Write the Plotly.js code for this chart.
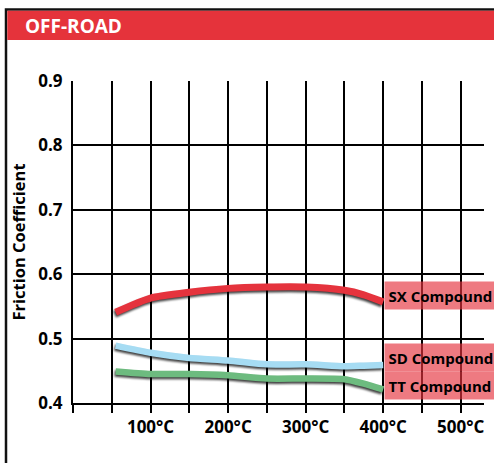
<!DOCTYPE html>
<html>
<head>
<meta charset="utf-8">
<script src="https://cdn.plot.ly/plotly-3.0.1.min.js"></script>
<style>
html,body{margin:0;padding:0;background:#fff;}
#chart{width:494px;height:463px;}
.scatterlayer .trace path.js-line{filter:drop-shadow(-1px 2px 1px rgba(0,0,0,0.75));}
</style>
</head>
<body>
<div id="chart"></div>
<script>
// Data (temperature in °C, friction coefficient)
const temps = [55, 100, 150, 200, 250, 300, 350, 375, 400];
const sxValues = [0.541, 0.563, 0.572, 0.578, 0.580, 0.580, 0.575, 0.568, 0.557];
const sdValues = [0.489, 0.478, 0.470, 0.466, 0.460, 0.460, 0.457, 0.458, 0.459];
const ttValues = [0.449, 0.445, 0.445, 0.443, 0.438, 0.438, 0.437, 0.430, 0.421];
const seriesNames = ['SX Compound', 'SD Compound', 'TT Compound'];
const labelValues = [0.567, 0.470, 0.427];
const xTickVals = [0, 50, 100, 150, 200, 250, 300, 350, 400, 450, 500];
const xTickText = ['', '', '100°C', '', '200°C', '', '300°C', '', '400°C', '', '500°C'];
const yTickVals = [0.4, 0.5, 0.6, 0.7, 0.8, 0.9];
const yTickText = ['0.4', '0.5', '0.6', '0.7', '0.8', '0.9'];
const chartTitle = 'OFF-ROAD';
const yTitle = 'Friction Coefficient';

const colors = ['#e5333d', '#a6dcf3', '#6dbb7f'];
const widths = [7, 6.5, 6.5];
const allValues = [sxValues, sdValues, ttValues];
const FONT = '"Open Sans", Lato, sans-serif';

const traces = allValues.map((v, i) => ({
  x: temps, y: v, type: 'scatter', mode: 'lines', name: seriesNames[i],
  line: {color: colors[i], width: widths[i], shape: 'spline', smoothing: 0.6},
  hoverinfo: 'skip'
}));

const W = 494, H = 463, pl = 73, pr = 10, pt = 81, pb = 60;
const pw = W - pl - pr, ph = H - pt - pb;
function px(x){ return (x - pl) / pw; }
function py(y){ return (H - pb - y) / ph; }

const annotations = seriesNames.map((n, i) => ({
  x: 400, y: labelValues[i], xref: 'x', yref: 'y', xanchor: 'left', yanchor: 'middle',
  text: '<b>' + n + '</b>', showarrow: false, align: 'left', width: 114,
  font: {family: FONT, size: 15, color: '#000'},
  bgcolor: 'rgba(229,51,61,0.65)', borderpad: 3.5, xshift: 1
}));
annotations.push({
  x: px(23), y: py(26), xref: 'paper', yref: 'paper', text: '<b>' + chartTitle + '</b>',
  showarrow: false, xanchor: 'left', yanchor: 'middle',
  font: {family: FONT, size: 19, color: '#fff'}
});

const layout = {
  width: W, height: H,
  margin: {l: pl, r: pr, t: pt, b: pb},
  paper_bgcolor: '#fff', plot_bgcolor: '#fff',
  showlegend: false,
  font: {family: FONT, color: '#000'},
  xaxis: {
    range: [0, 530], tickmode: 'array', tickvals: xTickVals, ticktext: xTickText,
    showgrid: true, gridcolor: '#000', gridwidth: 2, zeroline: false,
    showline: true, linecolor: '#000', linewidth: 2,
    ticks: 'outside', ticklen: 8, tickwidth: 2, tickcolor: '#000',
    tickfont: {family: FONT, size: 17, color: '#000', weight: 'bold'},
    fixedrange: true
  },
  yaxis: {
    range: [0.4, 0.9], tickmode: 'array', tickvals: yTickVals, ticktext: yTickText,
    showgrid: true, gridcolor: '#000', gridwidth: 2, zeroline: false,
    showline: true, linecolor: '#000', linewidth: 2, ticks: '', ticklabelstandoff: 5,
    tickfont: {family: FONT, size: 17, color: '#000', weight: 'bold'},
    title: {text: '<b>' + yTitle + '</b>', font: {family: FONT, size: 16.5, color: '#000'}, standoff: 9},
    fixedrange: true
  },
  annotations: annotations,
  shapes: [
    {type: 'rect', xref: 'paper', yref: 'paper', layer: 'below',
     x0: px(6), x1: px(500), y0: py(470), y1: py(9.5), line: {color: '#111', width: 2.5}, fillcolor: 'rgba(0,0,0,0)'},
    {type: 'rect', xref: 'paper', yref: 'paper', layer: 'below',
     x0: px(7.3), x1: px(500), y0: py(40), y1: py(10.8), line: {width: 0}, fillcolor: '#e5333b'}
  ]
};

Plotly.newPlot('chart', traces, layout, {displayModeBar: false, staticPlot: true});
</script>
</body>
</html>
